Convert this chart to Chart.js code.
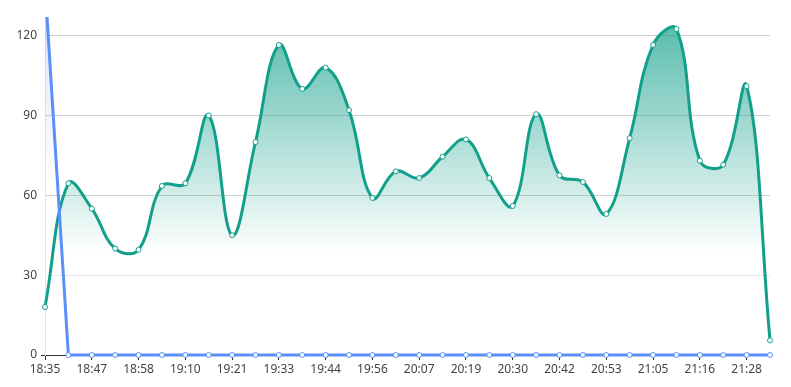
<!DOCTYPE html>
<html>
<head>
<meta charset="utf-8">
<script src="https://cdn.jsdelivr.net/npm/chart.js@4"></script>
<style>
  html, body { margin: 0; padding: 0; background: #fff; }
  #wrap { width: 791px; height: 387px; }
</style>
</head>
<body>
<div id="wrap"><canvas id="chart" width="791" height="387"></canvas></div>
<script>
// time labels, one every ~5.75 min (only every other one shown)
const times = ["18:35","18:41","18:47","18:52","18:58","19:04","19:10","19:15",
  "19:21","19:27","19:33","19:38","19:44","19:50","19:56","20:01",
  "20:07","20:13","20:19","20:24","20:30","20:36","20:42","20:47",
  "20:53","20:59","21:05","21:10","21:16","21:22","21:28","21:33"];

const greenValues = [18, 64.5, 55, 40, 39.5, 63.5, 64.5, 90, 45, 80, 116.5, 100,
  108, 92, 59, 69, 66.5, 74.5, 81, 66.5, 56, 90.5, 67.5, 65, 53, 81.5, 116.5, 122.5,
  73, 71.5, 101, 5.5];

const blueValues = [139, 0, 0, 0, 0, 0, 0, 0, 0, 0, 0, 0, 0, 0, 0, 0,
  0, 0, 0, 0, 0, 0, 0, 0, 0, 0, 0, 0, 0, 0, 0, 0];

const yTicks = [0, 30, 60, 90, 120];

const GREEN = "#12a08b";
const BLUE = "#5b8ff9";

function greenFill(ctx) {
  const area = ctx.chart.chartArea;
  if (!area) return "rgba(18,160,139,0.3)";
  const g = ctx.chart.ctx.createLinearGradient(0, area.top, 0, area.bottom);
  g.addColorStop(0, "rgba(18,160,139,0.72)");
  g.addColorStop(0.7, "rgba(18,160,139,0)");
  return g;
}

function blueFill(ctx) {
  const area = ctx.chart.chartArea;
  if (!area) return "rgba(91,143,249,0.2)";
  const g = ctx.chart.ctx.createLinearGradient(0, area.top, 0, area.bottom);
  g.addColorStop(0, "rgba(91,143,249,0.22)");
  g.addColorStop(0.5, "rgba(91,143,249,0)");
  return g;
}

// let the lines spill past the sides/bottom, but cut at the top
const clipBox = { left: 6, right: 6, top: 0, bottom: 6 };

new Chart(document.getElementById("chart"), {
  type: "line",
  data: {
    labels: times,
    datasets: [
      // blue first so it is drawn on top of the green one
      {
        data: blueValues,
        borderColor: BLUE,
        borderWidth: 3,
        backgroundColor: blueFill,
        fill: "origin",
        tension: 0,
        clip: clipBox,
        pointRadius: 2.5,
        pointBackgroundColor: "#fff",
        pointBorderColor: BLUE,
        pointBorderWidth: 1
      },
      {
        data: greenValues,
        borderColor: GREEN,
        borderWidth: 3,
        backgroundColor: greenFill,
        fill: "origin",
        tension: 0.4,
        clip: clipBox,
        pointRadius: 2.5,
        pointBackgroundColor: "#fff",
        pointBorderColor: GREEN,
        pointBorderWidth: 1
      }
    ]
  },
  options: {
    responsive: false,
    animation: false,
    layout: { padding: { top: 17, right: 21, left: 0, bottom: 0 } },
    plugins: { legend: { display: false }, tooltip: { enabled: false } },
    scales: {
      x: {
        offset: false,
        afterFit: s => { s.height = 32; },
        grid: {
          drawOnChartArea: false,
          drawTicks: true,
          tickLength: 5,
          color: c => (c.index % 2 === 0 ? "#333" : "rgba(0,0,0,0)")
        },
        border: { color: "#333", width: 1 },
        ticks: {
          autoSkip: false,
          maxRotation: 0,
          padding: 2,
          color: "#444",
          font: { family: "Noto Sans", size: 12 },
          callback: (v, i) => (i % 2 === 0 ? times[i] : "")
        }
      },
      y: {
        min: 0,
        max: 127,
        afterFit: s => { s.width = 45; },
        afterBuildTicks: s => { s.ticks = yTicks.map(v => ({ value: v })); },
        grid: {
          drawTicks: true,
          tickLength: 4,
          tickColor: c => (c.tick.value === 0 ? "#333" : "rgba(0,0,0,0)"),
          color: c => (c.tick.value === 30 ? "#e8e8e8" : (c.tick.value === 0 ? "rgba(0,0,0,0)" : "#cfcfcf"))
        },
        border: { display: true, color: "#e6e6e6" },
        ticks: {
          padding: 4,
          color: "#444",
          font: { family: "Noto Sans", size: 12 }
        }
      }
    }
  }
});
</script>
</body>
</html>
